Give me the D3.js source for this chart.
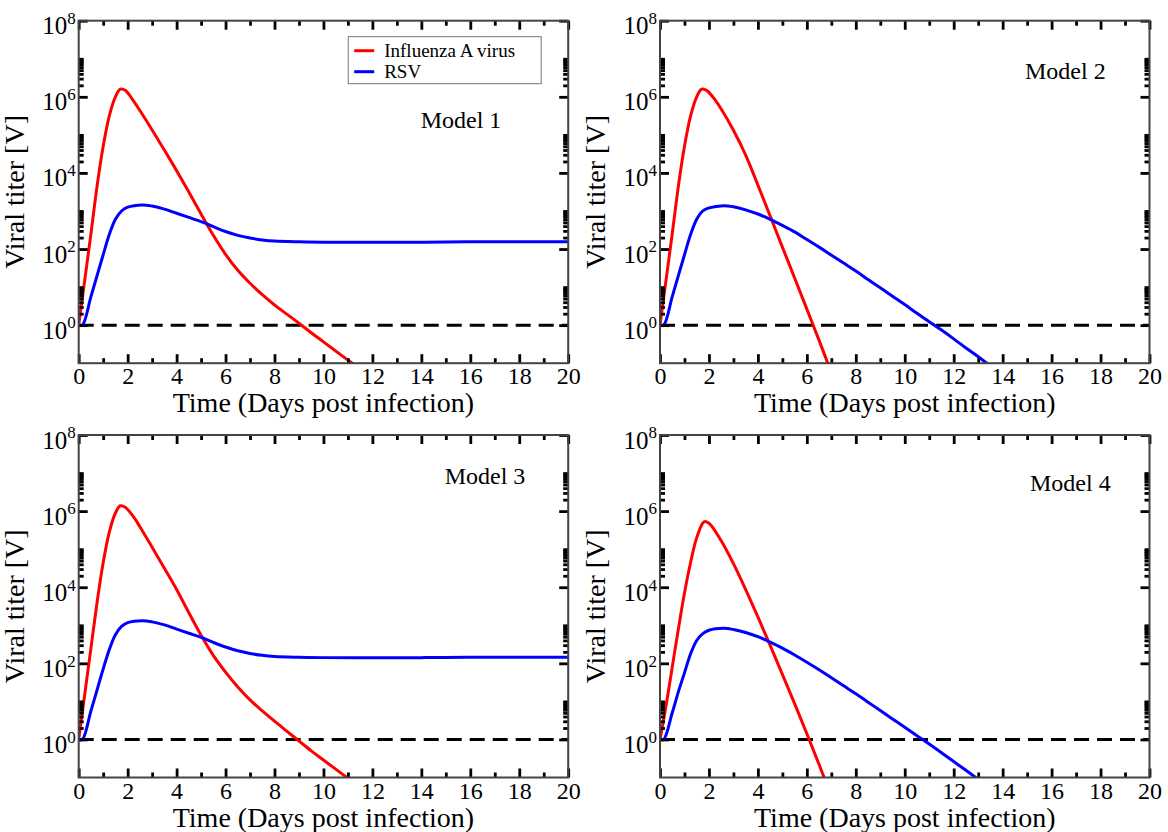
<!DOCTYPE html>
<html>
<head>
<meta charset="utf-8">
<script src="https://cdn.jsdelivr.net/npm/d3@7"></script>
<style>
  body { margin: 0; background: #fff; }
  svg text { font-family: "Liberation Serif", "Times New Roman", serif; fill: #000; }
</style>
</head>
<body>
<svg id="chart" width="1168" height="832"></svg>
<script>
const serif = '"Liberation Serif", "Times New Roman", serif';

// tick values
const xMajor = [0, 2, 4, 6, 8, 10, 12, 14, 16, 18, 20];
const xMinor = [1, 3, 5, 7, 9, 11, 13, 15, 17, 19];
const yExponents = [0, 2, 4, 6, 8];
const seriesNames = ["Influenza A virus", "RSV"];
const modelNames = ["Model 1", "Model 2", "Model 3", "Model 4"];

// [day, log10 titer]
const m1Flu = [[0,0],[0.25,1.2],[0.5,2.4],[0.75,3.65],[1,4.7],[1.25,5.5],[1.5,6.0],[1.7,6.2],[1.9,6.17],[2.25,5.88],[2.5,5.64],[3,5.13],[3.5,4.6],[4,4.06],[4.5,3.5],[5,2.92],[5.5,2.36],[6,1.86],[6.5,1.44],[7,1.1],[7.5,0.8],[8,0.53],[8.5,0.29],[9,0.05],[9.5,-0.2],[10,-0.44],[10.5,-0.68],[11,-0.92],[11.3,-1.06]];
const m1Rsv = [[0,0],[0.15,0],[0.5,0.75],[0.75,1.3],[1,1.85],[1.25,2.38],[1.5,2.78],[1.75,3.0],[2,3.1],[2.6,3.16],[3,3.13],[3.5,3.05],[4,2.94],[4.5,2.83],[5,2.72],[5.5,2.59],[6,2.46],[6.5,2.36],[7,2.29],[7.5,2.24],[8,2.21],[9,2.19],[10,2.18],[12,2.18],[14,2.18],[16,2.19],[18,2.19],[20,2.19]];
const m2Flu = [[0,0],[0.25,1.2],[0.5,2.4],[0.75,3.65],[1,4.7],[1.25,5.5],[1.5,6.0],[1.7,6.2],[1.9,6.17],[2.25,5.92],[2.5,5.68],[3,5.12],[3.5,4.47],[4,3.68],[4.5,2.87],[5,2.05],[5.5,1.24],[6,0.42],[6.5,-0.4],[7,-1.25]];
const m2Rsv = [[0,0],[0.15,0],[0.5,0.75],[0.75,1.3],[1,1.85],[1.25,2.38],[1.5,2.78],[1.75,3.0],[2,3.08],[2.6,3.14],[3,3.11],[3.5,3.03],[4,2.92],[4.5,2.78],[5,2.62],[5.5,2.45],[6,2.25],[6.5,2.05],[7,1.84],[7.5,1.63],[8,1.42],[8.5,1.2],[9,0.98],[9.5,0.76],[10,0.54],[10.5,0.31],[11,0.09],[11.5,-0.13],[12,-0.36],[12.5,-0.6],[13,-0.83],[13.5,-1.07]];
const m3Flu = [[0,0],[0.25,1.2],[0.5,2.4],[0.75,3.6],[1,4.65],[1.25,5.45],[1.5,5.95],[1.7,6.14],[1.9,6.1],[2.25,5.84],[2.5,5.59],[3,5.05],[3.5,4.5],[4,3.94],[4.5,3.33],[5,2.74],[5.5,2.21],[6,1.77],[6.5,1.38],[7,1.04],[7.5,0.75],[8,0.48],[8.5,0.22],[9,-0.04],[9.5,-0.3],[10,-0.54],[10.5,-0.78],[11,-1.02]];
const m3Rsv = [[0,0],[0.15,0],[0.5,0.75],[0.75,1.3],[1,1.85],[1.25,2.36],[1.5,2.75],[1.75,2.97],[2,3.07],[2.6,3.12],[3,3.09],[3.5,3.01],[4,2.9],[4.5,2.79],[5,2.68],[5.5,2.55],[6,2.43],[6.5,2.33],[7,2.26],[7.5,2.21],[8,2.18],[9,2.16],[10,2.15],[12,2.15],[14,2.15],[16,2.16],[18,2.16],[20,2.16]];
const m4Flu = [[0,0],[0.25,0.9],[0.5,1.9],[0.75,2.9],[1,3.85],[1.25,4.65],[1.5,5.3],[1.8,5.72],[2,5.68],[2.5,5.22],[3,4.62],[3.5,3.94],[4,3.22],[4.5,2.47],[5,1.71],[5.5,0.94],[6,0.15],[6.5,-0.66],[6.8,-1.16]];
const m4Rsv = [[0,0],[0.15,0],[0.5,0.7],[0.75,1.25],[1,1.75],[1.25,2.25],[1.5,2.6],[1.75,2.78],[2,2.87],[2.6,2.92],[3,2.89],[3.5,2.81],[4,2.7],[4.5,2.56],[5,2.4],[5.5,2.22],[6,2.03],[6.5,1.83],[7,1.62],[7.5,1.41],[8,1.2],[8.5,0.98],[9,0.76],[9.5,0.54],[10,0.32],[10.5,0.1],[11,-0.12],[11.5,-0.35],[12,-0.58],[12.5,-0.81],[13,-1.05]];

const colors = ["#ff0000", "#0000ff"];
const pw = 489.5, ph = 342.5;

const panels = [
    { left: 78.7, top: 20.7, flu: m1Flu, rsv: m1Rsv, name: modelNames[0], lx: 342, ly: 107, legend: true },
    { left: 660, top: 20.7, flu: m2Flu, rsv: m2Rsv, name: modelNames[1], lx: 365, ly: 58 },
    { left: 78.7, top: 435, flu: m3Flu, rsv: m3Rsv, name: modelNames[2], lx: 366, ly: 49 },
    { left: 660, top: 435, flu: m4Flu, rsv: m4Rsv, name: modelNames[3], lx: 370, ly: 56 }
];

const svg = d3.select('#chart');

const x = d3.scaleLinear().domain([0, 20]).range([0, pw]);
const y = d3.scaleLog().domain([0.1, 1e8]).range([ph, 0]);

// minor log ticks: 2..10 x 10^even
const yMinor = [];
[0, 2, 4, 6].forEach(e => d3.range(2, 11).forEach(k => yMinor.push(k * Math.pow(10, e))));

const line = d3.line()
    .x(d => x(d[0]))
    .y(d => y(Math.pow(10, d[1])))
    .curve(d3.curveCatmullRom.alpha(0.5));

function styleTicks(g) {
    g.attr('font-family', serif).attr('font-size', null);
    g.select('.domain').remove();
    g.selectAll('.tick line').attr('stroke', '#000').attr('stroke-width', 2.8);
}

panels.forEach((p, i) => {
    const g = svg.append('g').attr('transform', `translate(${p.left},${p.top})`);

    g.append('clipPath').attr('id', 'clip' + i)
        .append('rect').attr('width', pw).attr('height', ph);

    // dashed reference at 10^0
    g.append('line')
        .attr('x1', x(0)).attr('x2', x(20))
        .attr('y1', y(1)).attr('y2', y(1))
        .attr('stroke', '#000').attr('stroke-width', 3)
        .attr('stroke-dasharray', '15,8');

    const curves = g.append('g').attr('clip-path', `url(#clip${i})`);
    curves.append('path').datum(p.flu).attr('d', line)
        .attr('fill', 'none').attr('stroke', colors[0]).attr('stroke-width', 3);
    curves.append('path').datum(p.rsv).attr('d', line)
        .attr('fill', 'none').attr('stroke', colors[1]).attr('stroke-width', 3);

    // x axes (bottom with labels, top mirrored)
    g.append('g').attr('transform', `translate(0,${ph})`)
        .call(d3.axisBottom(x).tickValues(xMajor).tickSizeInner(-9).tickSizeOuter(0).tickPadding(4).tickFormat(d3.format('d')))
        .call(styleTicks)
        .selectAll('text')
        .style('font-family', serif)
        .style('font-size', '24px');
    g.append('g').attr('transform', `translate(0,${ph})`)
        .call(d3.axisBottom(x).tickValues(xMinor).tickSizeInner(-5).tickSizeOuter(0).tickFormat(''))
        .call(styleTicks);
    g.append('g')
        .call(d3.axisTop(x).tickValues(xMajor).tickSizeInner(-9).tickSizeOuter(0).tickFormat(''))
        .call(styleTicks);
    g.append('g')
        .call(d3.axisTop(x).tickValues(xMinor).tickSizeInner(-5).tickSizeOuter(0).tickFormat(''))
        .call(styleTicks);

    // y axes
    const yMajor = yExponents.map(e => Math.pow(10, e));
    const left = g.append('g')
        .call(d3.axisLeft(y).tickValues(yMajor).tickSizeInner(-9).tickSizeOuter(0).tickPadding(3).tickFormat(() => ''))
        .call(styleTicks);
    left.selectAll('.tick text')
        .attr('dy', '0.52em')
        .style('font-family', serif)
        .style('font-size', '25px')
        .each(function (d) {
            const t = d3.select(this);
            t.append('tspan').text('10');
            t.append('tspan').attr('dy', '-0.6em').style('font-size', '17px').text(Math.round(Math.log10(d)));
        });
    g.append('g')
        .call(d3.axisLeft(y).tickValues(yMinor).tickSizeInner(-5).tickSizeOuter(0).tickFormat(''))
        .call(styleTicks);
    g.append('g').attr('transform', `translate(${pw},0)`)
        .call(d3.axisRight(y).tickValues(yMajor).tickSizeInner(-9).tickSizeOuter(0).tickFormat(''))
        .call(styleTicks);
    g.append('g').attr('transform', `translate(${pw},0)`)
        .call(d3.axisRight(y).tickValues(yMinor).tickSizeInner(-5).tickSizeOuter(0).tickFormat(''))
        .call(styleTicks);

    // frame
    g.append('rect').attr('width', pw).attr('height', ph)
        .attr('fill', 'none').attr('stroke', '#444').attr('stroke-width', 2);

    // titles
    g.append('text')
        .attr('transform', `translate(-55,${ph / 2}) rotate(-90)`)
        .attr('text-anchor', 'middle')
        .style('font-size', '28px')
        .text('Viral titer [V]');
    g.append('text')
        .attr('x', pw / 2).attr('y', ph + 49)
        .attr('text-anchor', 'middle')
        .style('font-size', '28px')
        .text('Time (Days post infection)');

    g.append('text')
        .attr('x', p.lx).attr('y', p.ly)
        .style('font-size', '24px')
        .text(p.name);

    if (p.legend) {
        const lg = g.append('g').attr('transform', 'translate(269.5,16)');
        lg.append('rect').attr('width', 193).attr('height', 47)
            .attr('fill', '#fff').attr('stroke', '#777').attr('stroke-width', 1);
        seriesNames.forEach((s, j) => {
            lg.append('line')
                .attr('x1', 6).attr('x2', 26)
                .attr('y1', 14 + j * 21).attr('y2', 14 + j * 21)
                .attr('stroke', colors[j]).attr('stroke-width', 3);
            lg.append('text')
                .attr('x', 36).attr('y', 20.5 + j * 21)
                .style('font-size', '19px')
                .text(s);
        });
    }
});
</script>
</body>
</html>
